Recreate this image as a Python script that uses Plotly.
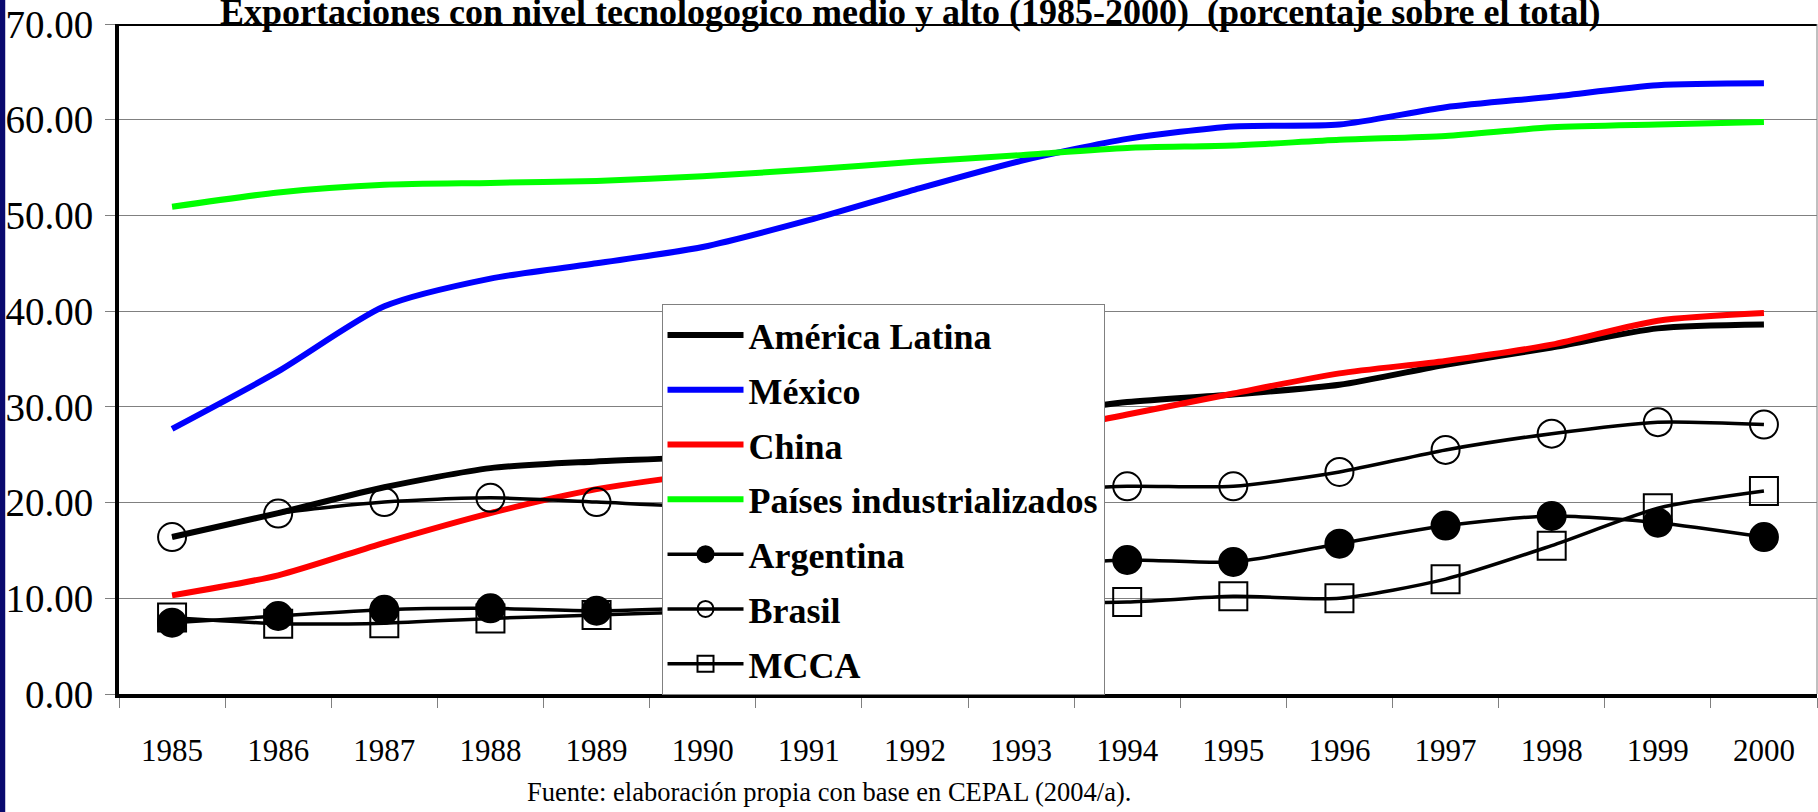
import plotly.graph_objects as go

years = [1985, 1986, 1987, 1988, 1989, 1990, 1991, 1992, 1993, 1994, 1995, 1996, 1997, 1998, 1999, 2000]
year_labels = [str(y) for y in years]
boundaries = [1984.5 + i for i in range(17)]

america_latina = [16.4, 18.9, 21.6, 23.6, 24.3, 24.8, 26.1, 27.5, 29.0, 30.5, 31.3, 32.3, 34.4, 36.2, 38.2, 38.6]
mexico = [27.7, 33.7, 40.5, 43.4, 45.0, 46.7, 49.5, 52.7, 55.7, 58.0, 59.3, 59.5, 61.3, 62.4, 63.6, 63.8]
china = [10.3, 12.4, 15.8, 18.9, 21.4, 23.0, 24.4, 25.7, 27.0, 29.2, 31.4, 33.5, 34.8, 36.5, 39.0, 39.8]
paises_ind = [50.9, 52.4, 53.2, 53.4, 53.6, 54.1, 54.8, 55.6, 56.3, 57.05, 57.3, 57.9, 58.3, 59.2, 59.5, 59.75]
argentina = [7.45, 8.15, 8.8, 8.95, 8.7, 9.1, 10.4, 11.9, 13.2, 14.0, 13.8, 15.7, 17.6, 18.6, 17.9, 16.4]
brasil = [16.4, 18.85, 20.05, 20.5, 20.05, 19.6, 19.9, 20.4, 21.2, 21.7, 21.7, 23.2, 25.5, 27.2, 28.4, 28.15]
mcca = [8.0, 7.35, 7.4, 7.9, 8.25, 8.6, 8.9, 9.2, 9.5, 9.6, 10.2, 10.0, 12.0, 15.5, 19.4, 21.2]

title_text = "Exportaciones con nivel tecnologogico medio y alto (1985-2000)  (porcentaje sobre el total)"
source_text = "Fuente: elaboración propia con base en CEPAL (2004/a)."

SERIF = "Liberation Serif, Times New Roman, serif"

fig = go.Figure()

thick = [
    ("América Latina", america_latina, "#000000"),
    ("México", mexico, "#0000FF"),
    ("China", china, "#FF0000"),
    ("Países industrializados", paises_ind, "#00FF00"),
]
for i, (name, vals, col) in enumerate(thick):
    fig.add_trace(go.Scatter(
        x=years, y=vals, name=name, mode="lines", legendgroup=f"g{i}",
        line=dict(color=col, width=6, shape="spline", smoothing=0.7),
    ))

marked = [
    ("Argentina", argentina, "circle", "#000000"),
    ("Brasil", brasil, "circle-open", "#000000"),
    ("MCCA", mcca, "square-open", "#000000"),
]
for j, (name, vals, sym, col) in enumerate(marked):
    fig.add_trace(go.Scatter(
        x=years, y=vals, name=name, mode="lines+markers", legendgroup=f"m{j}",
        line=dict(color="#000000", width=3.5, shape="spline", smoothing=0.7),
        marker=dict(symbol=sym, size=28, color=col, line=dict(color="#000000", width=2)),
    ))

fig.update_layout(
    width=1818, height=812,
    margin=dict(l=119, r=1, t=24, b=118),
    paper_bgcolor="white", plot_bgcolor="white",
    font=dict(family=SERIF, color="black"),
    showlegend=True,
    legend=dict(
        x=0.3195, y=0.582, xanchor="left", yanchor="top",
        bgcolor="white", bordercolor="#808080", borderwidth=1,
        font=dict(family=SERIF, size=36, color="black", weight="bold"),
        tracegroupgap=5, itemwidth=76,
    ),
    xaxis=dict(
        range=[1984.5, 2000.5], tickmode="array", tickvals=years, ticktext=year_labels,
        ticks="", showgrid=False, zeroline=False, automargin=False,
        showline=True, linecolor="black", linewidth=4,
        tickfont=dict(family=SERIF, size=31, color="black"),
        ticklabelstandoff=26,
        minor=dict(tickmode="array", tickvals=boundaries, ticks="outside", ticklen=10,
                   tickwidth=1, tickcolor="#808080", showgrid=False),
    ),
    yaxis=dict(
        range=[0, 70], tickmode="linear", tick0=0, dtick=10, tickformat=".2f",
        ticks="outside", ticklen=10, tickwidth=1, tickcolor="#808080",
        showgrid=True, gridcolor="#808080", gridwidth=1, zeroline=False, automargin=False,
        showline=True, linecolor="black", linewidth=4,
        tickfont=dict(family=SERIF, size=39, color="black"),
        ticklabelstandoff=4,
    ),
    shapes=[
        dict(type="line", xref="paper", yref="y", x0=0, x1=1, y0=70, y1=70,
             line=dict(color="black", width=4)),
        dict(type="line", xref="paper", yref="paper", x0=1, x1=1, y0=0, y1=1,
             line=dict(color="#808080", width=1)),
        dict(type="rect", xref="paper", yref="paper", x0=-0.0701, x1=-0.0670, y0=-0.2, y1=1.1,
             fillcolor="#0A0A6E", line=dict(width=0), layer="above"),
    ],
    annotations=[
        dict(text="<b>" + title_text + "</b>", xref="paper", yref="paper", x=0.4660, y=1,
             xanchor="center", yanchor="bottom", yshift=-10.5, showarrow=False,
             font=dict(family=SERIF, size=36, color="black")),
        dict(text=source_text, xref="paper", yref="paper", x=0.4179, y=-0.1463,
             xanchor="center", yanchor="middle", showarrow=False,
             font=dict(family=SERIF, size=26.5, color="black")),
    ],
)

fig.write_html("out.html", config={"displayModeBar": False},
               post_script="document.body.style.margin='0';")
